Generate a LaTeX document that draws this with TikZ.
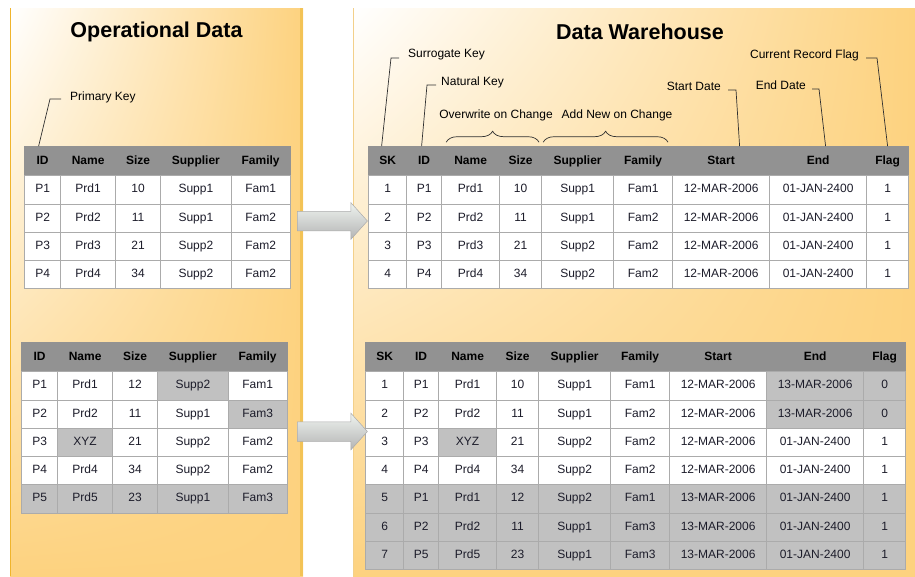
\documentclass[tikz,border=0pt]{standalone}
\usepackage{fontspec}
\setmainfont{Liberation Sans}
\usetikzlibrary{matrix,shapes.arrows,shadings,decorations.pathreplacing,calc}

\definecolor{panelorange}{HTML}{FDD27F}
\definecolor{edgeorange}{HTML}{F0B42C}
\definecolor{edgelight}{HTML}{F3D08A}
\definecolor{headgrey}{HTML}{929292}
\definecolor{gridgrey}{HTML}{ABABAB}
\definecolor{hlgrey}{HTML}{C1C1C1}
\definecolor{celltext}{HTML}{1C1C2A}
\definecolor{leadergrey}{HTML}{303030}
\definecolor{arrowlight}{HTML}{EEF3EF}
\definecolor{arrowdark}{HTML}{B4B4B4}

\tikzset{
  cell/.style={draw=gridgrey, fill=white, line width=0.8pt, minimum height=28.3pt,
    inner sep=0pt, anchor=center, text height=9pt, text depth=3pt,
    font=\fontsize{12}{14}\selectfont, text=celltext},
  headcell/.style={fill=headgrey, draw=headgrey, font=\fontsize{12}{14}\selectfont\bfseries, text=black},
  hl/.style={fill=hlgrey},
  datatable/.style={matrix of nodes, inner sep=0pt, row sep=-0.8pt, column sep=-0.8pt,
    nodes={cell}, row 1/.style={nodes={headcell, minimum height=29pt}}},
  opcols/.style={
    column 1/.style={nodes={minimum width=36pt}},
    column 2/.style={nodes={minimum width=55pt}},
    column 3/.style={nodes={minimum width=45pt}},
    column 4/.style={nodes={minimum width=70.5pt}},
    column 5/.style={nodes={minimum width=59pt}}},
  dwcols/.style={
    column 1/.style={nodes={minimum width=38pt}},
    column 2/.style={nodes={minimum width=35pt}},
    column 3/.style={nodes={minimum width=58pt}},
    column 4/.style={nodes={minimum width=42pt}},
    column 5/.style={nodes={minimum width=72pt}},
    column 6/.style={nodes={minimum width=59pt}},
    column 7/.style={nodes={minimum width=97pt}},
    column 8/.style={nodes={minimum width=97pt}},
    column 9/.style={nodes={minimum width=42pt}}},
  title/.style={font=\fontsize{21.5}{24}\selectfont\bfseries, text=black},
  note/.style={font=\fontsize{12}{14}\selectfont, text=black, inner sep=0pt},
  leader/.style={draw=leadergrey, line width=0.7pt},
  curly/.style={draw=leadergrey, line width=0.7pt, decorate, decoration={brace, amplitude=11pt}},
  blockarrow/.style={single arrow, minimum height=70pt, inner xsep=0pt, inner ysep=9.5pt,
    single arrow head extend=8.5pt, single arrow tip angle=96,
    top color=arrowlight, bottom color=arrowdark, draw=gridgrey, line width=0.5pt},
  panel/.style={upper left=white, upper right=panelorange, lower left=panelorange, lower right=panelorange}
}

\begin{document}
\begin{tikzpicture}[x=1pt,y=-1pt]
    \useasboundingbox (0,0) rectangle (915,576);
    % panels
    \shade[panel] (10,8) rectangle (303,576);
    \shade[panel] (353,8) rectangle (915,576);
    \draw[edgeorange, line width=1pt] (10.5,8) -- (10.5,576);
    \draw[edgeorange!80, line width=2.5pt] (301.5,8) -- (301.5,576);
    \draw[edgelight, line width=1.2pt] (353.5,8) -- (353.5,576);

    \node[title] (opTitle) at (156.5,32) {Operational Data};
    \node[title] (dwTitle) at (640,32) {Data Warehouse};

    % tables
    \matrix[datatable, opcols, anchor=north west] (opOld) at (24,146) {
      ID & Name & Size & Supplier & Family \\
      P1 & Prd1 & 10 & Supp1 & Fam1 \\
      P2 & Prd2 & 11 & Supp1 & Fam2 \\
      P3 & Prd3 & 21 & Supp2 & Fam2 \\
      P4 & Prd4 & 34 & Supp2 & Fam2 \\
    };
    \matrix[datatable, opcols, row 6/.style={nodes={hl}}, anchor=north west] (opNew) at (21,342) {
      ID & Name & Size & Supplier & Family \\
      P1 & Prd1 & 12 & |[hl]| Supp2 & Fam1 \\
      P2 & Prd2 & 11 & Supp1 & |[hl]| Fam3 \\
      P3 & |[hl]| XYZ & 21 & Supp2 & Fam2 \\
      P4 & Prd4 & 34 & Supp2 & Fam2 \\
      P5 & Prd5 & 23 & Supp1 & Fam3 \\
    };
    \matrix[datatable, dwcols, anchor=north west] (dwOld) at (368,146) {
      SK & ID & Name & Size & Supplier & Family & Start & End & Flag \\
      1 & P1 & Prd1 & 10 & Supp1 & Fam1 & 12-MAR-2006 & 01-JAN-2400 & 1 \\
      2 & P2 & Prd2 & 11 & Supp1 & Fam2 & 12-MAR-2006 & 01-JAN-2400 & 1 \\
      3 & P3 & Prd3 & 21 & Supp2 & Fam2 & 12-MAR-2006 & 01-JAN-2400 & 1 \\
      4 & P4 & Prd4 & 34 & Supp2 & Fam2 & 12-MAR-2006 & 01-JAN-2400 & 1 \\
    };
    \matrix[datatable, dwcols, row 6/.style={nodes={hl}}, row 7/.style={nodes={hl}},
            row 8/.style={nodes={hl}}, anchor=north west] (dwNew) at (365,342) {
      SK & ID & Name & Size & Supplier & Family & Start & End & Flag \\
      1 & P1 & Prd1 & 10 & Supp1 & Fam1 & 12-MAR-2006 & |[hl]| 13-MAR-2006 & |[hl]| 0 \\
      2 & P2 & Prd2 & 11 & Supp1 & Fam2 & 12-MAR-2006 & |[hl]| 13-MAR-2006 & |[hl]| 0 \\
      3 & P3 & |[hl]| XYZ & 21 & Supp2 & Fam2 & 12-MAR-2006 & 01-JAN-2400 & 1 \\
      4 & P4 & Prd4 & 34 & Supp2 & Fam2 & 12-MAR-2006 & 01-JAN-2400 & 1 \\
      5 & P1 & Prd1 & 12 & Supp2 & Fam1 & 13-MAR-2006 & 01-JAN-2400 & 1 \\
      6 & P2 & Prd2 & 11 & Supp1 & Fam3 & 13-MAR-2006 & 01-JAN-2400 & 1 \\
      7 & P5 & Prd5 & 23 & Supp1 & Fam3 & 13-MAR-2006 & 01-JAN-2400 & 1 \\
    };

    % load arrows
    \node[blockarrow] (arrTop) at (328,221) {};
    \node[blockarrow] (arrBot) at (328,431.5) {};

    % key notes
    \node[note, anchor=west] (pk) at (70,97) {Primary Key};
    \node[note, anchor=west] (sk) at (408,55) {Surrogate Key};
    \node[note, anchor=west] (nk) at (441,82) {Natural Key};
    \node[note, anchor=east] (sd) at (721,86) {Start Date};
    \node[note, anchor=east] (ed) at (806,85) {End Date};
    \node[note, anchor=east] (crf) at (859,55) {Current Record Flag};
    \node[note] (ovw) at (496,115) {Overwrite on Change};
    \node[note] (addn) at (617,115) {Add New on Change};

    \draw[leader] ($(pk.west)+(-9,2)$) -- ++(-11,0) -- ($(opOld-1-1.north)+(-4,0)$);
    \draw[leader] ($(sk.west)+(-9,3)$) -- ++(-8,0) -- ($(dwOld-1-1.north)+(-6,0)$);
    \draw[leader] ($(nk.west)+(-5,3)$) -- ++(-9,0) -- ($(dwOld-1-2.north)+(-2.5,0)$);
    \draw[leader] ($(sd.east)+(7,4)$) -- ++(8,0) -- ($(dwOld-1-7.north)+(18.5,0)$);
    \draw[leader] ($(ed.east)+(6,4)$) -- ++(7,0) -- ($(dwOld-1-8.north)+(7.5,0)$);
    \draw[leader] ($(crf.east)+(7,3)$) -- ++(11,0) -- (dwOld-1-9.north);

    \draw[curly] ($(dwOld-1-3.north west)+(5,-4)$) -- ($(dwOld-1-4.north east)+(-3,-4)$);
    \draw[curly] ($(dwOld-1-5.north west)+(2,-4)$) -- ($(dwOld-1-6.north east)+(-5,-4)$);
\end{tikzpicture}
\end{document}
